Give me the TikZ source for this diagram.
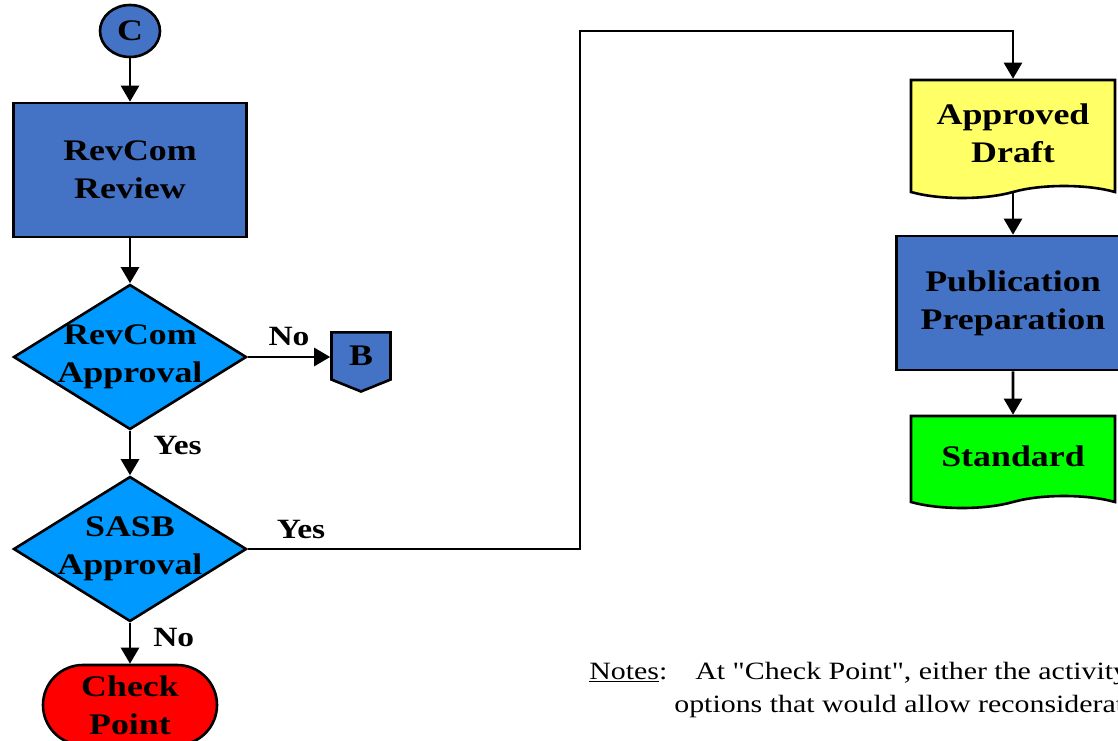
\documentclass[tikz,border=0pt]{standalone}
\usepackage{fontspec}
\setmainfont{Liberation Serif}[FakeStretch=1.2, Ligatures=TeXOff]
\usetikzlibrary{shapes.geometric,shapes.symbols,shapes.misc,arrows.meta,positioning,backgrounds}
\definecolor{boxblue}{HTML}{4472C4}
\definecolor{decblue}{HTML}{0099FF}
\definecolor{draftyellow}{HTML}{FFFF66}
\definecolor{stdgreen}{HTML}{00FF00}
\definecolor{checkred}{HTML}{FF0000}
\newcommand\nowd[1]{\makebox[0pt]{#1}}
\tikzset{every node/.style={font=\bfseries\fontsize{30}{38}\selectfont, align=center, inner sep=0pt},
  proc/.style={draw, fill=boxblue, minimum width=233bp, minimum height=134bp},
  decide/.style={draw, diamond, fill=decblue, minimum width=233bp, minimum height=145bp},
  docu/.style={draw, tape, tape bend top=none, tape bend bottom=in and out, tape bend height=12bp, minimum width=204bp},
  conn/.style={draw, ellipse, fill=boxblue, minimum width=60bp, minimum height=52bp},
  offpage/.style={draw, signal, signal to=south, signal pointer angle=136, fill=boxblue, minimum width=59bp, minimum height=52bp},
  term/.style={draw, rounded rectangle, fill=checkred, minimum width=174bp, minimum height=80bp},
  lbl/.style={font=\bfseries\fontsize{28}{30}\selectfont},
  arr/.style={line width=2.6bp, -{Triangle[length=16bp,width=18bp]}}}

\begin{document}
\begin{tikzpicture}[x=1bp, y=-1bp, line width=2.6bp]
  \useasboundingbox (0,0) rectangle (1118,741);
  \clip (0,0) rectangle (1118,741);
  \node[conn]  (c)     at ( 130,  31) {C};
  \node[proc]  (rcrev) at ( 130, 170) {RevCom\\Review};
  \node[decide](rcapp) at ( 130, 357) {\nowd{RevCom}\\\nowd{Approval}};
  \node[offpage](b)    at ( 361, 356) {B};
  \node[decide](sasb)  at ( 130, 549) {\nowd{SASB}\\\nowd{Approval}};
  \node[term]  (check) at ( 130, 705) {Check\\Point};
  \node[docu, fill=draftyellow, minimum height=118bp] (draft) at (1013, 133) {Approved\\Draft};
  \node[proc]  (pub)   at (1013, 303) {Publication\\Preparation};
  \node[docu, fill=stdgreen, minimum height=92bp] (std) at (1013, 456) {Standard};
  \coordinate  (turn)  at ( 580,  31);

  \draw[arr] (c) -- (rcrev);
  \draw[arr] (rcrev) -- (rcapp);
  \draw[arr] (rcapp.east) -- node[lbl, above=10bp] (lno) {No} (b.west |- rcapp.east);
  \draw[arr] (rcapp.south) -- node[lbl, right=22bp, pos=0.32] (lyes) {Yes} (sasb.north);
  \draw[arr] (sasb.south) -- node[lbl, right=22bp, pos=0.36] (sno) {No} (check.north);
  \draw[arr] (sasb.east) -- node[lbl, above=9bp, pos=0.16] (syes) {Yes} (sasb.east -| turn) -- (turn) -| (draft.north);
  \begin{scope}[on background layer]
    \draw[arr] (draft.south) -- (pub);
  \end{scope}
  \draw[arr] (pub) -- (std);

  \node[font=\fontsize{25}{33}\selectfont, align=left, anchor=north west] (notes) at (588, 661)
    {\underline{Notes}:\hspace{18bp} At "Check Point", either the activity\\\hspace*{85bp}options that would allow reconsideration};
\end{tikzpicture}
\end{document}
